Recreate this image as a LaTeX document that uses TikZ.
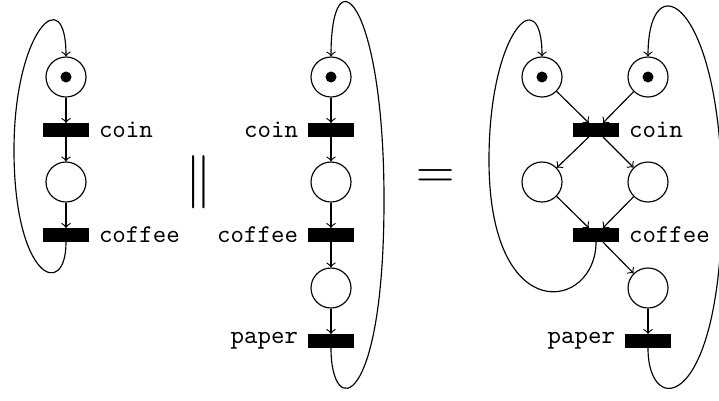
\documentclass[tikz,border=0pt]{standalone}
\usetikzlibrary{petri}
\begin{document}
\begin{tikzpicture}[x=0.39pt,y=-0.39pt,
  pl/.style={circle,draw,line width=0.45pt,minimum size=15.6pt,inner sep=0pt},
  tr/.style={rectangle,fill=black,minimum width=18.3pt,minimum height=5.1pt,inner sep=0pt},
  every token/.style={minimum size=4.3pt},
  arc/.style={->,line width=0.45pt},
  lab/.style={font=\ttfamily}]
\useasboundingbox (0,0) rectangle (719,400);
% left net
\node[pl,tokens=1] (p1) at (66,77) {};
\node[tr,label={[lab]right:coin}] (t1) at (66,130) {};
\node[pl] (p2) at (66,182) {};
\node[tr,label={[lab]right:coffee}] (t2) at (66,235) {};
\draw[arc] (p1) -- (t1);
\draw[arc] (t1) -- (p2);
\draw[arc] (p2) -- (t2);
\draw[arc] (t2.south) .. controls (66,300) and (14,280) .. (14,150) .. controls (14,30) and (66,-20) .. (p1);
% parallel sign
\node[font=\huge] (par) at (199,182) {$\|$};
% middle net
\node[pl,tokens=1] (q1) at (331,77) {};
\node[tr,label={[lab]left:coin}] (u1) at (331,130) {};
\node[pl] (q2) at (331,182) {};
\node[tr,label={[lab]left:coffee}] (u2) at (331,235) {};
\node[pl] (q3) at (331,288) {};
\node[tr,label={[lab]left:paper}] (u3) at (331,341) {};
\draw[arc] (q1) -- (u1);
\draw[arc] (u1) -- (q2);
\draw[arc] (q2) -- (u2);
\draw[arc] (u2) -- (q3);
\draw[arc] (q3) -- (u3);
\draw[arc] (u3.south) .. controls (331,420) and (384,410) .. (384,200) .. controls (384,0) and (331,-50) .. (q1);
% equals sign
\node[font=\huge] (eq) at (436,179) {$=$};
% right net
\node[pl,tokens=1] (r1) at (542,77) {};
\node[pl,tokens=1] (r2) at (648,77) {};
\node[tr,label={[lab]right:coin}] (v1) at (596,130) {};
\node[pl] (r3) at (542,182) {};
\node[pl] (r4) at (648,182) {};
\node[tr,label={[lab]right:coffee}] (v2) at (596,235) {};
\node[pl] (r5) at (648,288) {};
\node[tr,label={[lab]left:paper}] (v3) at (648,341) {};
\draw[arc] (r1) -- (v1);
\draw[arc] (r2) -- (v1);
\draw[arc] (v1) -- (r3);
\draw[arc] (v1) -- (r4);
\draw[arc] (r3) -- (v2);
\draw[arc] (r4) -- (v2);
\draw[arc] (v2) -- (r5);
\draw[arc] (r5) -- (v3);
\draw[arc] (v2.south) .. controls (596,310) and (489,330) .. (489,160) .. controls (489,30) and (542,-20) .. (r1);
\draw[arc] (v3.south) .. controls (648,420) and (722,410) .. (722,200) .. controls (722,0) and (648,-40) .. (r2);
\end{tikzpicture}
\end{document}
